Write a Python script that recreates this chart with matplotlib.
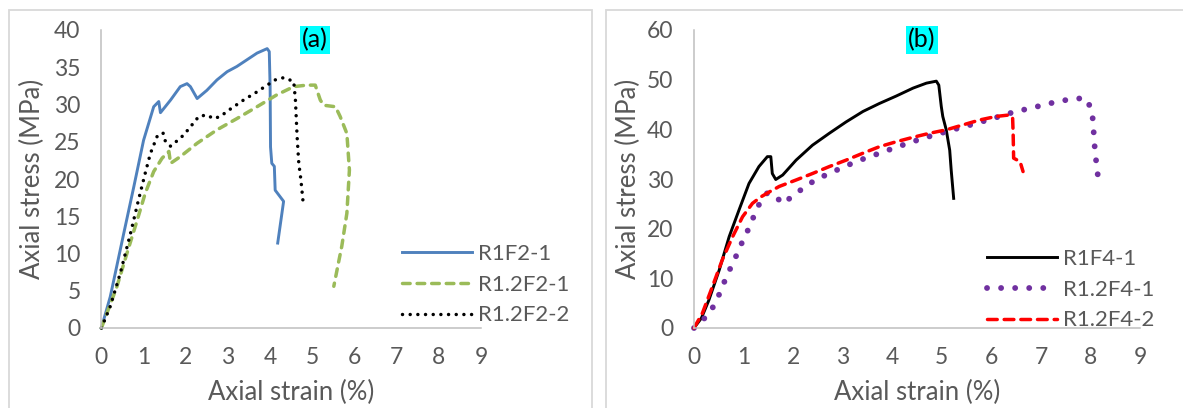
import matplotlib
matplotlib.use("Agg")
import matplotlib.pyplot as plt
from matplotlib.patches import Rectangle

plt.rcParams['font.family'] = ['Lato', 'DejaVu Sans']

# ---------------- data ----------------
# Panel (a)
r1f2_1_x = [0, 0.21, 0.53, 0.77, 1.0, 1.24, 1.36, 1.40, 1.64, 1.87, 2.03, 2.11, 2.27, 2.50,
            2.74, 2.98, 3.21, 3.45, 3.69, 3.93, 3.98, 4.0, 4.01, 4.04, 4.10, 4.12, 4.24, 4.32, 4.18]
r1f2_1_y = [0, 4.2, 12.7, 19.0, 25.2, 29.7, 30.4, 28.9, 30.6, 32.4, 32.8, 32.4, 30.8, 31.9,
            33.3, 34.4, 35.1, 36.0, 36.9, 37.5, 37.1, 32.4, 24.3, 22.1, 21.7, 18.5, 17.6, 17.0, 11.4]

r12f2_1_x = [0, 0.37, 0.61, 0.85, 1.04, 1.24, 1.44, 1.60, 1.64, 1.87, 2.27, 2.74, 3.21, 3.69,
             4.16, 4.56, 4.87, 5.07, 5.19, 5.27, 5.55, 5.66, 5.82, 5.88, 5.82, 5.70, 5.51]
r12f2_1_y = [0, 5.6, 10.1, 14.5, 18.1, 21.0, 22.8, 23.7, 22.1, 23.0, 24.8, 26.6, 28.1, 29.7,
             31.3, 32.4, 32.6, 32.6, 30.6, 29.9, 29.7, 28.4, 26.1, 21.2, 15.4, 11.0, 5.6]

r12f2_2_x = [0, 0.21, 0.45, 0.69, 0.88, 1.04, 1.16, 1.32, 1.46, 1.52, 1.64, 1.81, 1.95, 2.11,
             2.31, 2.50, 2.66, 2.82, 3.06, 3.37, 3.69, 3.93, 4.12, 4.32, 4.56, 4.60, 4.64, 4.68,
             4.73, 4.78]
r12f2_2_y = [0, 2.9, 7.4, 12.7, 17.2, 20.8, 23.4, 25.7, 26.2, 25.0, 24.4, 25.2, 25.9, 27.0,
             28.4, 28.6, 28.1, 28.4, 29.4, 30.6, 31.7, 32.6, 33.3, 33.6, 33.1, 30.6, 25.7, 22.1,
             19.9, 17.0]

# Panel (b)
r1f4_1_x = [0, 0.15, 0.30, 0.51, 0.71, 0.91, 1.11, 1.31, 1.48, 1.55, 1.58, 1.65, 1.79, 2.06,
            2.39, 2.73, 3.07, 3.41, 3.74, 4.08, 4.42, 4.69, 4.89, 4.94, 4.99, 5.02, 5.09, 5.16,
            5.19, 5.24]
r1f4_1_y = [0, 2.0, 5.6, 11.7, 18.4, 23.8, 29.1, 32.5, 34.5, 34.5, 31.1, 29.9, 30.8, 33.8,
            36.8, 39.2, 41.5, 43.6, 45.2, 46.7, 48.3, 49.3, 49.7, 48.9, 44.6, 42.6, 39.9, 35.8,
            31.8, 26.1]

r12f4_1_x = [0, 0.10, 0.32, 0.46, 0.57, 0.69, 0.82, 0.94, 1.07, 1.19, 1.31, 1.48, 1.64, 1.79,
             2.02, 2.25, 2.48, 2.73, 2.99, 3.25, 3.51, 3.78, 4.05, 4.32, 4.59, 4.86, 5.12, 5.39,
             5.66, 5.93, 6.20, 6.49, 6.77, 7.05, 7.34, 7.62, 7.90, 8.02, 8.06, 8.07, 8.10, 8.13,
             8.17]
r12f4_1_y = [0, 0.8, 3.1, 5.6, 8.3, 11.1, 13.8, 16.6, 19.3, 22.1, 24.8, 27.2, 26.6, 25.0,
             26.8, 28.5, 30.0, 31.1, 32.3, 33.4, 34.4, 35.3, 36.3, 37.2, 38.1, 38.9, 39.6, 40.4,
             41.1, 41.9, 42.7, 43.6, 44.2, 44.9, 45.6, 46.1, 46.3, 44.1, 41.1, 38.1, 35.1, 32.1,
             29.3]

r12f4_2_x = [0, 0.17, 0.37, 0.57, 0.78, 0.98, 1.18, 1.35, 1.52, 1.72, 2.06, 2.39, 2.73, 3.07,
             3.41, 3.74, 4.08, 4.42, 4.75, 5.09, 5.43, 5.77, 6.10, 6.37, 6.43, 6.44, 6.45, 6.58,
             6.64]
r12f4_2_y = [0, 3.0, 8.3, 13.7, 18.4, 22.4, 25.1, 26.4, 27.4, 28.5, 29.8, 31.1, 32.5, 33.8,
             35.2, 36.5, 37.5, 38.4, 39.2, 39.9, 40.9, 41.9, 42.6, 42.9, 42.2, 39.2, 34.2, 33.5,
             31.5]

labels_a = ['R1F2-1', 'R1.2F2-1', 'R1.2F2-2']
labels_b = ['R1F4-1', 'R1.2F4-1', 'R1.2F4-2']
xticks = list(range(0, 10))
yticks_a = list(range(0, 41, 5))
yticks_b = list(range(0, 61, 10))

# ---------------- figure ----------------
W, H = 1183, 408
fig = plt.figure(figsize=(W / 100, H / 100), dpi=100)
fig.patch.set_facecolor('white')

TXT = '#595959'
AX = '#BFBFBF'
BORDER = '#D9D9D9'


def fx(px):
    return px / W


def fy(py):
    return 1 - py / H


# panel borders
fig.patches.append(Rectangle((fx(9), fy(420)), fx(592) - fx(9), fy(10) - fy(420),
                             transform=fig.transFigure, fill=False, ec=BORDER, lw=1.3))
fig.patches.append(Rectangle((fx(606), fy(420)), fx(1200) - fx(606), fy(10) - fy(420),
                             transform=fig.transFigure, fill=False, ec=BORDER, lw=1.3))

y0, y1 = 328, 30
ax_a = fig.add_axes([fx(101.4), fy(y0), fx(481) - fx(101.4), fy(y1) - fy(y0)])
ax_b = fig.add_axes([fx(694), fy(y0), fx(1140) - fx(694), fy(y1) - fy(y0)])

TICK_FS = 16.5
LAB_FS = 18.5
LEG_FS = 16


def style(ax, yticks, ylab_x):
    ax.set_xlim(0, 9)
    ax.set_ylim(yticks[0], yticks[-1])
    ax.set_xticks(xticks)
    ax.set_yticks(yticks)
    for s in ['top', 'right']:
        ax.spines[s].set_visible(False)
    for s in ['left', 'bottom']:
        ax.spines[s].set_color(AX)
        ax.spines[s].set_linewidth(1.1)
    ax.tick_params(axis='both', length=0, labelsize=TICK_FS, labelcolor=TXT)
    ax.tick_params(axis='x', pad=14)
    ax.tick_params(axis='y', pad=15)
    ax.set_xlabel('Axial strain (%)', fontsize=LAB_FS, color=TXT, va='center')
    ax.xaxis.set_label_coords(0.5, -(392 - 328) / 298)
    ax.set_ylabel('Axial stress (MPa)', fontsize=LAB_FS, color=TXT, va='center', ha='center')
    ax.yaxis.set_label_coords(ylab_x, 0.5)
    ax.patch.set_alpha(0)


style(ax_a, yticks_a, (32 - 101.4) / 379.6)
style(ax_b, yticks_b, (628 - 694) / 446)

# Panel (a) lines
ax_a.plot(r1f2_1_x, r1f2_1_y, color='#4F81BD', lw=2.1, solid_joinstyle='round',
          label=labels_a[0], clip_on=False)
ax_a.plot(r12f2_1_x, r12f2_1_y, color='#9BBB59', lw=2.5, linestyle=(0, (2.2, 2.0)),
          dash_capstyle='round', label=labels_a[1], clip_on=False)
ax_a.plot(r12f2_2_x, r12f2_2_y, color='black', lw=2.5, linestyle=(0, (0.01, 2.2)),
          dash_capstyle='round', label=labels_a[2], clip_on=False)

# Panel (b) lines
ax_b.plot(r1f4_1_x, r1f4_1_y, color='black', lw=2.1, solid_joinstyle='round',
          label=labels_b[0], clip_on=False)
ax_b.plot(r12f4_1_x, r12f4_1_y, color='#7030A0', lw=4.2, linestyle=(0, (0.01, 2.4)),
          dash_capstyle='round', label=labels_b[1], clip_on=False)
ax_b.plot(r12f4_2_x, r12f4_2_y, color='#FF0000', lw=2.5, linestyle=(0, (2.8, 2.0)),
          dash_capstyle='round', label=labels_b[2], clip_on=False)

# Panel titles with cyan highlight
for ax, t, cx in [(ax_a, '(a)', (315 - 101.4) / 379.6), (ax_b, '(b)', (922 - 694) / 446)]:
    ax.text(cx, (328 - 40) / 298, t, transform=ax.transAxes, ha='center', va='center',
            fontsize=18, color='black',
            bbox=dict(boxstyle='square,pad=0.1', fc='#00FFFF', ec='none'))

# Legends
leg_kw = dict(frameon=False, fontsize=LEG_FS, handlelength=3.15, handletextpad=0.27,
              labelspacing=0.48, borderpad=0, borderaxespad=0, loc='upper left',
              bbox_transform=fig.transFigure, labelcolor=TXT)
ax_a.legend(bbox_to_anchor=(fx(402), fy(244)), **leg_kw)
ax_b.legend(bbox_to_anchor=(fx(987), fy(249)), **leg_kw)

fig.savefig('out.png', dpi=100)
